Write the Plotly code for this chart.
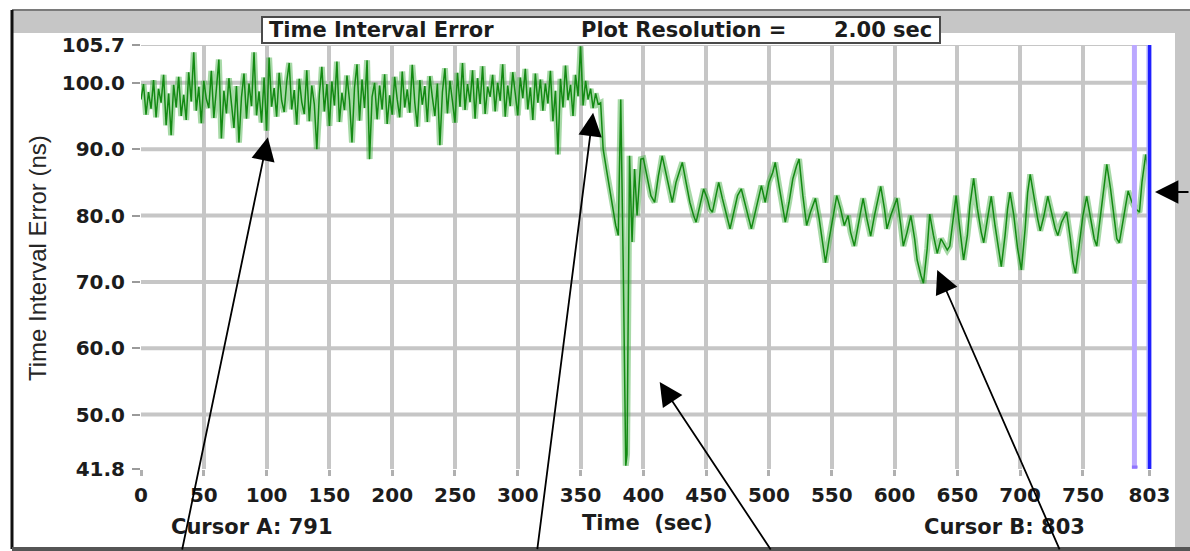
import plotly.graph_objects as go

# ---------------------------------------------------------------- data
# Time interval error samples (ns); first block is sampled every 2 s from t = 0
noisy_v = [
    97.5, 99.8, 95.2, 98.6, 96.1, 100.4, 94.8, 99.1, 97.0, 101.2,
    93.6, 98.4, 92.1, 99.7, 96.3, 100.9, 95.0, 98.2, 94.4, 101.6,
    97.2, 104.6, 95.8, 99.4, 93.9, 100.3, 97.6, 96.2, 101.8, 94.7,
    99.0, 103.5, 91.6, 98.8, 95.4, 100.7, 96.9, 93.2, 99.5, 91.0,
    97.8, 101.4, 94.6, 99.9, 96.5, 104.6, 95.1, 98.7, 94.0, 100.8,
    92.8, 103.8, 96.4, 99.2, 94.9, 101.5, 97.3, 95.6, 100.1, 103.0,
    96.0, 98.9, 93.7, 100.6, 97.1, 95.3, 101.9, 94.2, 99.6, 96.8,
    90.0, 98.3, 102.4, 95.7, 99.8, 93.5, 100.2, 96.6, 103.2, 94.1,
    98.5, 95.9, 101.1, 97.4, 91.0, 99.3, 102.8, 94.3, 100.5, 96.2,
    103.4, 88.5, 97.9, 100.0, 94.5, 99.6, 96.0, 101.3, 93.8, 98.1,
    95.2, 100.9, 97.5, 94.8, 101.7, 96.3, 99.0, 95.5, 102.7, 97.0,
    93.4, 100.4, 96.7, 99.5, 94.1, 101.0, 97.8, 95.0, 99.9, 90.6,
    98.6, 102.2, 95.4, 100.3, 97.2, 94.0, 101.5, 96.4, 103.0, 95.9,
    99.8, 97.1, 101.9, 94.6, 100.7, 96.8, 102.5, 95.3, 99.4, 97.9,
    101.2, 95.7, 100.0, 97.3, 102.8, 94.9, 99.6, 96.5, 101.6, 98.2,
    95.1, 100.8, 97.7, 102.1, 96.0, 99.3, 94.4, 101.4, 97.0, 100.5,
    95.8, 99.9, 96.9, 101.8, 94.2, 98.8, 89.2, 100.6, 96.3, 102.6,
    97.4, 99.7, 95.0, 101.2, 98.0, 105.5, 96.6, 100.3, 97.5, 99.1,
    96.2, 98.4, 96.8,
]
noisy_t = [2 * i for i in range(len(noisy_v))]

# step event and recovery
step_t = [366, 368, 371, 374, 376, 378, 380, 382, 384, 385, 386, 387, 388,
          389, 391, 393, 395, 398]
step_v = [97.0, 90.0, 86.5, 83.0, 81.0, 78.5, 77.0, 97.5, 72.0, 58.0, 42.3,
          44.0, 66.0, 89.0, 76.0, 87.0, 80.0, 88.5]

# settled wander after the step
tail_t = [400, 403, 406, 409, 412, 415, 418, 421, 423, 426, 429, 431, 434,
          437, 440, 442, 445, 448, 451, 453, 455, 458, 460, 463, 466, 469,
          472, 475, 478, 481, 484, 486, 489, 492, 494, 497, 500, 503, 505,
          508, 511, 513, 516, 519, 522, 524, 527, 530, 533, 537, 540, 543,
          545, 548, 551, 554, 557, 560, 563, 565, 568, 571, 575, 578, 581,
          584, 587, 589, 592, 594, 597, 600, 602, 605, 607, 610, 613, 616,
          618, 621, 623, 626, 628, 631, 634, 637, 639, 642, 644, 647, 649,
          652, 655, 658, 660, 663, 666, 669, 671, 674, 677, 680, 683, 685,
          688, 690, 692, 695, 698, 701, 704, 706, 708, 711, 714, 716, 719,
          722, 725, 728, 730, 733, 737, 740, 742, 744, 747, 750, 753, 756,
          759, 761, 764, 767, 769, 772, 775, 777, 779, 782, 784, 786, 789,
          792, 795, 797, 800, 802]
tail_v = [88.6, 85.5, 83.0, 82.0, 86.0, 89.0, 86.5, 83.5, 82.0, 85.0, 87.0,
          88.0, 85.0, 82.0, 80.0, 79.0, 81.5, 84.0, 82.5, 81.0, 80.5, 83.0,
          85.0, 82.5, 80.0, 78.0, 80.5, 83.0, 84.0, 81.5, 79.5, 78.0, 80.5,
          83.0, 84.5, 82.0, 85.0, 86.5, 88.0, 84.5, 81.0, 79.0, 82.0, 85.5,
          87.5, 88.5, 83.0, 78.5, 80.5, 82.6, 79.5, 75.5, 72.9, 76.5, 80.0,
          83.0, 81.0, 78.5, 80.0, 77.5, 75.4, 78.5, 82.6, 79.5, 76.9, 80.0,
          82.5, 84.4, 81.0, 78.0, 80.0, 81.5, 82.6, 78.5, 75.4, 77.5, 80.0,
          76.5, 73.3, 71.0, 69.8, 75.0, 80.2, 77.0, 74.3, 76.5, 75.9, 74.8,
          75.4, 79.5, 83.0, 78.0, 73.3, 77.0, 81.5, 85.6, 81.0, 77.5, 75.9,
          79.5, 82.9, 78.5, 74.5, 72.3, 77.0, 81.0, 83.5, 80.0, 75.0, 71.8,
          78.0, 83.5, 86.2, 82.5, 79.5, 77.7, 80.0, 82.9, 80.5, 78.0, 77.0,
          79.0, 80.5, 76.5, 73.0, 71.3, 75.5, 80.0, 82.9, 79.5, 76.5, 75.4,
          80.0, 85.0, 87.7, 84.0, 79.5, 76.5, 75.9, 79.5, 82.0, 83.7, 82.0,
          81.0, 80.5, 85.0, 89.2, 87.0]

time_s = noisy_t + step_t + tail_t
tie_ns = noisy_v + step_v + tail_v

x_ticks = [0, 50, 100, 150, 200, 250, 300, 350, 400, 450, 500, 550, 600,
           650, 700, 750, 803]
x_tick_text = ["0", "50", "100", "150", "200", "250", "300", "350", "400",
               "450", "500", "550", "600", "650", "700", "750", "803"]
y_ticks = [41.8, 50.0, 60.0, 70.0, 80.0, 90.0, 100.0, 105.7]
y_tick_text = ["41.8", "50.0", "60.0", "70.0", "80.0", "90.0", "100.0", "105.7"]
y_grid = [50.0, 60.0, 70.0, 80.0, 90.0, 100.0, 105.7]

cursor_a = 791
cursor_b = 803
resolution = 2.00

# arrow tips (time, ns) and tail offsets in pixels
arrow_tips = [(101, 91.8), (360, 95.5), (413, 54.9), (634, 71.8)]
arrow_tails = [(-86, 414), (-56, 438), (112, 169), (123, 281)]

# ---------------------------------------------------------------- layout
W, H = 1190, 551
L, R, T, B = 141, 38, 45, 82
PW, PH = W - L - R, H - T - B


def px(x):
    return (x - L) / PW


def py(y):
    return (H - B - y) / PH


TICK_FONT = dict(family="DejaVu Sans", size=20, color="#1c1c1c", weight="bold")
LABEL_FONT = dict(family="DejaVu Sans", size=21, color="#1c1c1c", weight="bold")

fig = go.Figure()

# wide pale band under the trace
fig.add_trace(go.Scatter(
    x=time_s, y=tie_ns, mode="lines",
    line=dict(color="rgba(80,180,80,0.5)", width=6),
    hoverinfo="skip", showlegend=False,
))
# dark trace on top
fig.add_trace(go.Scatter(
    x=time_s, y=tie_ns, mode="lines",
    line=dict(color="#138a13", width=1.5),
    showlegend=False,
))

shapes = []

# horizontal grid
for v in y_grid:
    shapes.append(dict(type="line", xref="x", yref="y", x0=0, x1=cursor_b,
                       y0=v, y1=v, layer="below",
                       line=dict(color="#c6c6c6", width=4 if v != 105.7 else 2)))

# cursors
shapes.append(dict(type="line", xref="x", yref="y", x0=cursor_a, x1=cursor_a,
                   y0=41.8, y1=105.7, line=dict(color="#bba8ff", width=5)))
shapes.append(dict(type="line", xref="x", yref="y", x0=cursor_a - 2,
                   x1=cursor_a + 2.5, y0=42.1, y1=42.1,
                   line=dict(color="#8f74ff", width=3)))
shapes.append(dict(type="line", xref="x", yref="y", x0=cursor_b, x1=cursor_b,
                   y0=41.8, y1=105.7, line=dict(color="#a9a9ff", width=6)))
shapes.append(dict(type="line", xref="x", yref="y", x0=cursor_b, x1=cursor_b,
                   y0=41.8, y1=105.7, line=dict(color="#1f1fff", width=3)))

# window frame
shapes += [
    dict(type="rect", xref="paper", yref="paper", x0=px(12), x1=px(1190),
         y0=py(33), y1=py(10), fillcolor="#c6c6c6", line=dict(width=0)),
    dict(type="rect", xref="paper", yref="paper", x0=px(1175), x1=px(1190),
         y0=py(548), y1=py(10), fillcolor="#c6c6c6", line=dict(width=0)),
    dict(type="line", xref="paper", yref="paper", x0=px(12), x1=px(1190),
         y0=py(10), y1=py(10), line=dict(color="#7a7a7a", width=2)),
    dict(type="line", xref="paper", yref="paper", x0=px(12), x1=px(12),
         y0=py(549), y1=py(10), line=dict(color="#111111", width=3)),
    dict(type="line", xref="paper", yref="paper", x0=px(12), x1=px(1190),
         y0=py(549), y1=py(549), line=dict(color="#555555", width=4)),
    dict(type="rect", xref="paper", yref="paper", x0=px(262), x1=px(940),
         y0=py(43), y1=py(17), fillcolor="white",
         line=dict(color="#4a4a4a", width=2)),
]

annotations = [
    dict(text="Time Interval Error", xref="paper", yref="paper",
         x=px(267), y=py(30), xanchor="left", yanchor="middle",
         showarrow=False, font=LABEL_FONT),
    dict(text="Plot Resolution =", xref="paper", yref="paper",
         x=px(579), y=py(30), xanchor="left", yanchor="middle",
         showarrow=False, font=LABEL_FONT),
    dict(text=f"{resolution:.2f} sec", xref="paper", yref="paper",
         x=px(934), y=py(30), xanchor="right", yanchor="middle",
         showarrow=False, font=LABEL_FONT),
    dict(text="Time Interval Error (ns)", xref="paper", yref="paper",
         x=px(37), y=py(258), textangle=-90, xanchor="center",
         yanchor="middle", showarrow=False,
         font=dict(family="Liberation Sans", size=24, color="#262626")),
    dict(text="Time  (sec)", xref="paper", yref="paper",
         x=px(647), y=py(523), xanchor="center", yanchor="middle",
         showarrow=False, font=LABEL_FONT),
    dict(text=f"Cursor A: {cursor_a}", xref="paper", yref="paper",
         x=px(252), y=py(527), xanchor="center", yanchor="middle",
         showarrow=False, font=LABEL_FONT),
    dict(text=f"Cursor B: {cursor_b}", xref="paper", yref="paper",
         x=px(1004), y=py(527), xanchor="center", yanchor="middle",
         showarrow=False, font=LABEL_FONT),
]

for (tx, tv), (ax, ay) in zip(arrow_tips, arrow_tails):
    annotations.append(dict(
        x=tx, y=tv, xref="x", yref="y", ax=ax, ay=ay, text="",
        showarrow=True, arrowhead=2, arrowsize=2.6, arrowwidth=1.8,
        arrowcolor="#000000", standoff=0,
    ))
# arrow coming in from the right edge toward the end of the trace
annotations.append(dict(
    x=px(1155), y=py(192), xref="paper", yref="paper", ax=40, ay=0,
    text="", showarrow=True, arrowhead=2, arrowsize=2.6, arrowwidth=1.8,
    arrowcolor="#000000", standoff=0,
))

fig.update_layout(
    width=W, height=H, autosize=False,
    margin=dict(l=L, r=R, t=T, b=B, pad=0),
    paper_bgcolor="white", plot_bgcolor="white",
    shapes=shapes, annotations=annotations,
    showlegend=False,
    xaxis=dict(
        range=[0, 805], tickmode="array", tickvals=x_ticks,
        ticktext=x_tick_text, showgrid=True, gridcolor="#c6c6c6",
        gridwidth=4, zeroline=False, showline=False,
        ticks="outside", ticklen=6, tickwidth=3, tickcolor="#b0b0b0",
        tickfont=TICK_FONT, ticklabelstandoff=2, fixedrange=True,
    ),
    yaxis=dict(
        range=[41.8, 105.7], tickmode="array", tickvals=y_ticks,
        ticktext=y_tick_text, showgrid=False, zeroline=False,
        showline=False, ticks="outside", ticklen=8, tickwidth=2,
        tickcolor="#9a9a9a", tickfont=TICK_FONT, ticklabelstandoff=3,
        fixedrange=True,
    ),
)

fig.write_html("out.html")
